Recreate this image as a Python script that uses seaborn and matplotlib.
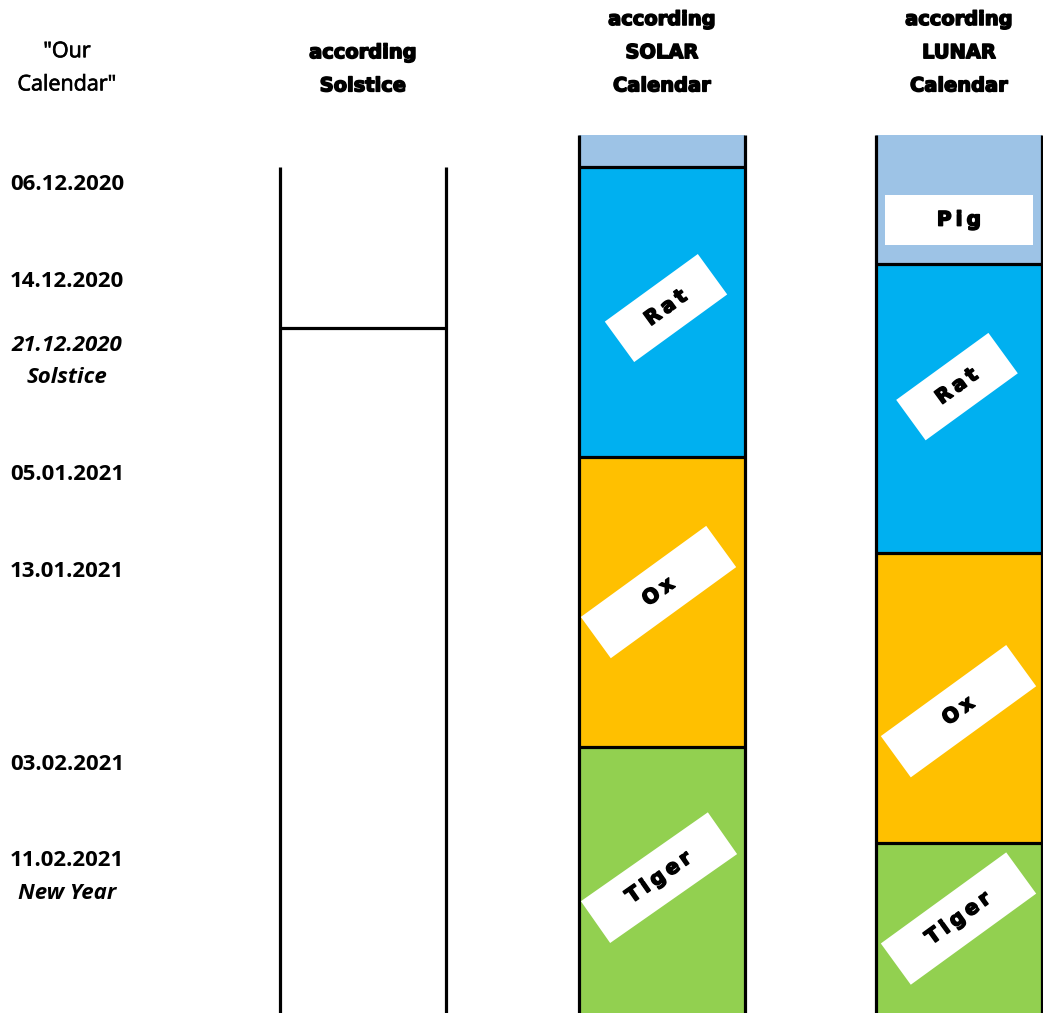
import matplotlib.pyplot as plt
import seaborn as sns
from matplotlib import patheffects
from matplotlib.patches import Rectangle
from matplotlib.transforms import Affine2D, ScaledTranslation

sns.set_theme(style="white")
plt.rcParams['font.family'] = ['Open Sans', 'DejaVu Sans']

# --- data: sheet rows (one row ~ one cell of the original sheet) ---
date_labels = ["06.12.2020", "14.12.2020", "21.12.2020", "05.01.2021",
               "13.01.2021", "03.02.2021", "11.02.2021"]
date_rows = [0, 3, 5, 9, 12, 18, 21]
date_notes = ["", "", "Solstice", "", "", "", "New Year"]
date_italic = [False, False, True, False, False, False, False]

solstice_start = 0
solstice_row = 5

solar_animals = ["Pig", "Rat", "Ox", "Tiger"]
solar_start = [-1, 0, 9, 18]
solar_tagged = [False, True, True, True]

lunar_animals = ["Pig", "Rat", "Ox", "Tiger"]
lunar_start = [-1, 3, 12, 21]
lunar_tagged = [True, True, True, True]

animal_colors = {"Pig": "#9DC3E6", "Rat": "#00B0F0",
                 "Ox": "#FFC000", "Tiger": "#92D050"}

headers = [['"Our', 'Calendar"'],
           ['according', 'Solstice'],
           ['according', 'SOLAR', 'Calendar'],
           ['according', 'LUNAR', 'Calendar']]

# --- layout ---
W, H, DPI = 10.43, 10.13, 100
ROW_PX = 32.2
TOP = -167 / ROW_PX
BOTTOM = TOP + H * DPI / ROW_PX
END_ROW = 28
LW = 2.3
col_x = [67, 363, 662, 959]       # centres of the sheet columns
col_w = 166
label_x = 67
heavy = [patheffects.withStroke(linewidth=1.1, foreground='black')]
semi = [patheffects.withStroke(linewidth=0.5, foreground='black')]

# tag placement: (x, row, width px, height px, angle)
solar_tag_pos = [None, (666, 4.38, 115, 50, 36), (658.5, 13.2, 155, 51, 36),
                 (659, 22.07, 155, 51, 35)]
lunar_tag_pos = [(959, 1.65, 148, 50, 0), (957, 6.82, 114, 50, 36),
                 (958.5, 16.9, 155, 51, 36), (958.5, 23.34, 155, 51, 36)]

fig = plt.figure(figsize=(W, H), dpi=DPI)
ax = fig.add_axes([0, 0, 1, 1])
ax.set_xlim(0, W * DPI)
ax.set_ylim(BOTTOM, TOP)
ax.axis('off')

# headers
for i, lines in enumerate(headers):
    n = len(lines)
    for j, line in enumerate(lines):
        row = -2.52 - (n - 1 - j) * 1.03
        if i == 0:
            ax.text(col_x[i], row - 0.03, line, ha='center', va='center',
                    fontsize=15.5, color='black', path_effects=semi)
        else:
            ax.text(col_x[i], row, line, ha='center', va='center',
                    fontsize=14, fontweight='bold', color='black',
                    family='DejaVu Sans', path_effects=heavy)

# date labels
for lab, r, note, it in zip(date_labels, date_rows, date_notes, date_italic):
    ax.text(label_x, r + 0.55, lab, ha='center', va='center', fontsize=16,
            fontweight='bold', fontstyle='italic' if it else 'normal',
            color='black')
    if note:
        ax.text(label_x, r + 1.55, note, ha='center', va='center',
                fontsize=16, fontweight='bold', fontstyle='italic',
                color='black')

# solstice column
sx = col_x[1]
ax.vlines([sx - col_w / 2, sx + col_w / 2], solstice_start, END_ROW,
          color='black', lw=LW)
ax.hlines(solstice_row, sx - col_w / 2, sx + col_w / 2, color='black', lw=LW)


def draw_tag(x, y, text, w, h, angle):
    trans = (Affine2D().rotate_deg(angle) + fig.dpi_scale_trans
             + ScaledTranslation(x, y, ax.transData))
    ax.add_patch(Rectangle((-w / 2 / DPI, -h / 2 / DPI), w / DPI, h / DPI,
                           facecolor='white', edgecolor='none',
                           transform=trans, zorder=4))
    ax.text(x, y, '\u2009'.join(text), rotation=angle, rotation_mode='anchor',
            ha='center', va='center', fontsize=14.5, fontweight='bold',
            family='DejaVu Sans', color='black', zorder=5,
            path_effects=heavy)


def draw_calendar(cx, animals, starts, tagged, tag_pos):
    ends = starts[1:] + [END_ROW]
    ax.bar([cx] * len(animals), [e - s for s, e in zip(starts, ends)],
           bottom=starts, width=col_w,
           color=[animal_colors[a] for a in animals], linewidth=0)
    ax.vlines([cx - col_w / 2, cx + col_w / 2], starts[0], END_ROW,
              color='black', lw=LW)
    ax.hlines(starts[1:], cx - col_w / 2, cx + col_w / 2, color='black', lw=LW)
    for a, t, p in zip(animals, tagged, tag_pos):
        if t:
            draw_tag(p[0], p[1], a, p[2], p[3], p[4])


draw_calendar(col_x[2], solar_animals, solar_start, solar_tagged, solar_tag_pos)
draw_calendar(col_x[3], lunar_animals, lunar_start, lunar_tagged, lunar_tag_pos)

fig.savefig('out.png', dpi=DPI)
plt.close(fig)
